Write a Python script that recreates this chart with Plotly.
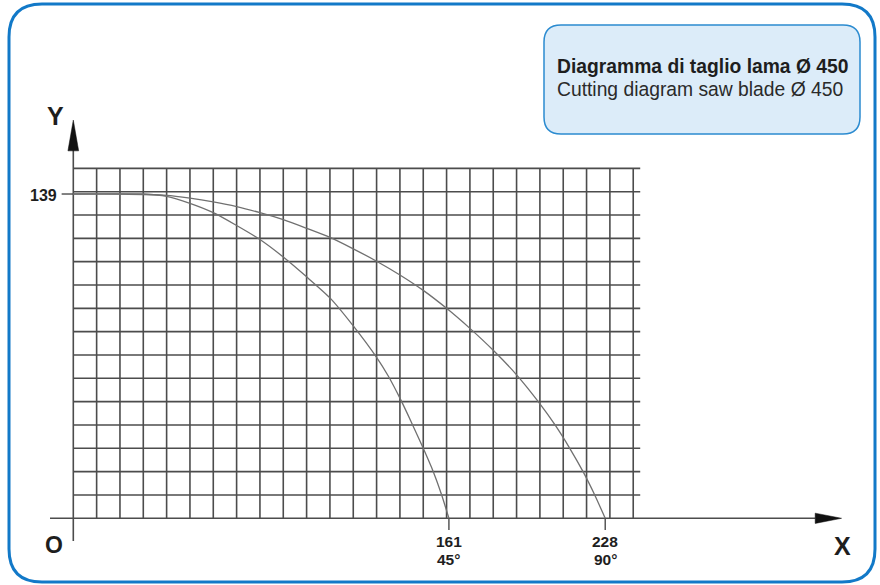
import plotly.graph_objects as go

# ---------------- data ----------------
x_45 = [0, 20, 30, 40, 50, 60, 70, 80, 90, 100, 110, 120, 130, 135, 140, 145, 150, 154.3, 157.9, 161]
y_45 = [139, 139, 139, 138, 135, 131, 125.5, 119.5, 112, 103.5, 94.5, 82.5, 69, 61, 51.5, 41, 30, 20, 10, 0]

x_90 = [0, 20, 40, 50, 60, 70, 80, 90, 100, 110, 120, 130, 140, 150, 160, 170, 180, 190, 199.3, 206.5, 212.8, 218.5, 223.5, 228]
y_90 = [139, 139, 138.4, 137.2, 135.6, 133.6, 131, 128, 124.3, 120.4, 115.5, 110.2, 104.3, 97.7, 90, 81.4, 72, 61.5, 50, 40, 30, 20, 10, 0]

x_grid = list(range(0, 250, 10))      # vertical grid lines
y_grid = list(range(10, 160, 10))     # horizontal grid lines
x_grid_end = 243
y_grid_top = 150

y_tick_val = 139
x_ticks = [161, 228]
x_tick_angles = ["45°", "90°"]

title_it = "Diagramma di taglio lama Ø 450"
title_en = "Cutting diagram saw blade Ø 450"

# ---------------- pixel <-> data mapping (screen pixels) ----------------
W, H = 880, 585
OFF = 0            # page body margin removed by post_script
X0, Y0, S = 73.3, 518.3, 2.333


def px(p):
    return (p - X0) / S


def py(p):
    return (Y0 - p) / S


def rrect(x0, y0, x1, y1, r):
    """rounded rectangle path, pixel inputs -> data coords"""
    a, b, c, d = px(x0), py(y0), px(x1), py(y1)
    rr = r / S
    return (f"M {a+rr},{b} L {c-rr},{b} Q {c},{b} {c},{b-rr} "
            f"L {c},{d+rr} Q {c},{d} {c-rr},{d} L {a+rr},{d} "
            f"Q {a},{d} {a},{d+rr} L {a},{b-rr} Q {a},{b} {a+rr},{b} Z")


fig = go.Figure()

GRID = "#4c4c4c"

# grid
gx, gy = [], []
for xv in x_grid[1:]:
    gx += [xv, xv, None]
    gy += [0, y_grid_top, None]
for yv in y_grid:
    gx += [0, x_grid_end, None]
    gy += [yv, yv, None]
fig.add_trace(go.Scatter(x=gx, y=gy, mode="lines",
                         line=dict(color=GRID, width=1.6),
                         hoverinfo="skip", showlegend=False))

# axes
fig.add_trace(go.Scatter(x=[px(50), 318], y=[0, 0], mode="lines",
                         line=dict(color=GRID, width=1.6),
                         hoverinfo="skip", showlegend=False))
fig.add_trace(go.Scatter(x=[0, 0], y=[py(541), 158], mode="lines",
                         line=dict(color=GRID, width=1.6),
                         hoverinfo="skip", showlegend=False))
# arrows
fig.add_trace(go.Scatter(x=[318, 329.3, 318, 318], y=[2.2, 0, -2.2, 2.2],
                         mode="lines", fill="toself", fillcolor="#111",
                         line=dict(color="#111", width=0.5),
                         hoverinfo="skip", showlegend=False))
fig.add_trace(go.Scatter(x=[-2.3, 0, 2.3, -2.3], y=[157.5, 170.7, 157.5, 157.5],
                         mode="lines", fill="toself", fillcolor="#111",
                         line=dict(color="#111", width=0.5),
                         hoverinfo="skip", showlegend=False))

# ticks
tx, ty = [-5, 0, None], [y_tick_val, y_tick_val, None]
for xv in x_ticks:
    tx += [xv, xv, None]
    ty += [0, -5, None]
fig.add_trace(go.Scatter(x=tx, y=ty, mode="lines",
                         line=dict(color=GRID, width=1.4),
                         hoverinfo="skip", showlegend=False))

# curves
for xs, ys in [(x_45, y_45), (x_90, y_90)]:
    fig.add_trace(go.Scatter(x=xs, y=ys, mode="lines",
                             line=dict(color="#707070", width=1.3, shape="spline", smoothing=0.6),
                             hoverinfo="skip", showlegend=False))

# frame + info box
shapes = [
    dict(type="path", xref="x", yref="y", path=rrect(9, 4, 875, 582, 33),
         line=dict(color="#1279c8", width=3), fillcolor="rgba(0,0,0,0)", layer="below"),
    dict(type="path", xref="x", yref="y", path=rrect(544, 25, 860, 134, 17),
         line=dict(color="#2b8bd0", width=1.5), fillcolor="#dcecf9", layer="below"),
]

FONT = "Liberation Sans, Arial, sans-serif"
ann = []


def label(text, x, y, size, bold=True, xanchor="center", color="#1e1e1e"):
    ann.append(dict(text=f"<b>{text}</b>" if bold else text, x=px(x), y=py(y),
                    xref="x", yref="y", showarrow=False, xanchor=xanchor, yanchor="middle",
                    font=dict(family=FONT, size=size, color=color)))


label(title_it, 555, 66, 19.3, True, "left")
label(title_en, 555, 89, 19.3, False, "left", "#2a2a2a")
label("Y", 55, 116, 25)
label("X", 842, 546, 25)
label("O", 54, 545, 23)
ann.append(dict(text=f"<b>{y_tick_val}</b>", x=-6.3, y=y_tick_val - 0.8, xref="x", yref="y",
                showarrow=False, xanchor="right", yanchor="middle",
                font=dict(family=FONT, size=16, color="#1e1e1e")))
for xv, ang in zip(x_ticks, x_tick_angles):
    ann.append(dict(text=f"<b>{xv}</b>", x=xv, y=py(541), xref="x", yref="y",
                    showarrow=False, xanchor="center", yanchor="middle",
                    font=dict(family=FONT, size=15.5, color="#1e1e1e")))
    ann.append(dict(text=f"<b>{ang}</b>", x=xv, y=py(559), xref="x", yref="y",
                    showarrow=False, xanchor="center", yanchor="middle",
                    font=dict(family=FONT, size=15.5, color="#1e1e1e")))

fig.update_layout(
    width=W, height=H, margin=dict(l=0, r=0, t=0, b=0),
    paper_bgcolor="white", plot_bgcolor="white",
    xaxis=dict(range=[px(OFF), px(OFF + W)], visible=False, fixedrange=True),
    yaxis=dict(range=[py(OFF + H), py(OFF)], visible=False, fixedrange=True),
    shapes=shapes, annotations=ann, showlegend=False,
)

fig.write_html("out.html", config={"displayModeBar": False, "staticPlot": True},
               post_script="document.body.style.margin='0px';document.body.style.overflow='hidden';")
